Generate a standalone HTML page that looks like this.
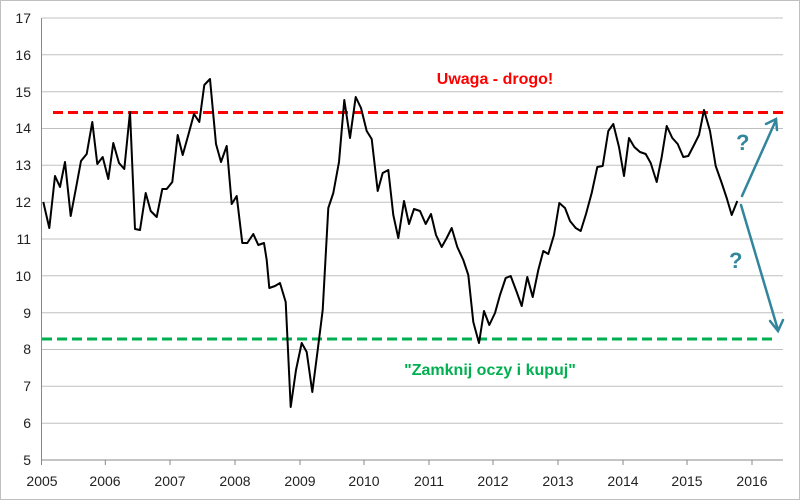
<!DOCTYPE html>
<html><head><meta charset="utf-8"><style>
html,body{margin:0;padding:0;background:#fff;}
svg{display:block;font-family:"Liberation Sans",sans-serif;}
</style></head><body>
<svg width="800" height="500" viewBox="0 0 800 500" xmlns="http://www.w3.org/2000/svg">
<rect x="0.5" y="0.5" width="799" height="499" fill="#fff" stroke="#bfbfbf"/>
<g stroke="#c0c0c0" stroke-width="1">
<line x1="42" x2="783" y1="18" y2="18"/><line x1="42" x2="783" y1="54.8" y2="54.8"/>
<line x1="42" x2="783" y1="91.7" y2="91.7"/><line x1="42" x2="783" y1="128.5" y2="128.5"/>
<line x1="42" x2="783" y1="165.3" y2="165.3"/><line x1="42" x2="783" y1="202.2" y2="202.2"/>
<line x1="42" x2="783" y1="239" y2="239"/><line x1="42" x2="783" y1="275.8" y2="275.8"/>
<line x1="42" x2="783" y1="312.7" y2="312.7"/><line x1="42" x2="783" y1="349.5" y2="349.5"/>
<line x1="42" x2="783" y1="386.3" y2="386.3"/><line x1="42" x2="783" y1="423.2" y2="423.2"/>
</g>
<g stroke="#888" stroke-width="1">
<line x1="41.5" x2="41.5" y1="18" y2="465"/>
<line x1="42" x2="783" y1="460" y2="460"/>
<line x1="105.3" x2="105.3" y1="460" y2="465"/><line x1="170" x2="170" y1="460" y2="465"/>
<line x1="235" x2="235" y1="460" y2="465"/><line x1="300" x2="300" y1="460" y2="465"/>
<line x1="364" x2="364" y1="460" y2="465"/><line x1="429" x2="429" y1="460" y2="465"/>
<line x1="493" x2="493" y1="460" y2="465"/><line x1="558" x2="558" y1="460" y2="465"/>
<line x1="623" x2="623" y1="460" y2="465"/><line x1="687" x2="687" y1="460" y2="465"/>
<line x1="752" x2="752" y1="460" y2="465"/>
</g>
<g font-size="14" fill="#222" text-anchor="end">
<text x="31" y="23">17</text><text x="31" y="60">16</text><text x="31" y="97">15</text>
<text x="31" y="133">14</text><text x="31" y="170">13</text><text x="31" y="207">12</text>
<text x="31" y="244">11</text><text x="31" y="281">10</text><text x="31" y="318">9</text>
<text x="31" y="354">8</text><text x="31" y="391">7</text><text x="31" y="428">6</text>
<text x="31" y="465">5</text>
</g>
<g font-size="14" fill="#222" text-anchor="middle">
<text x="42" y="486">2005</text><text x="105" y="486">2006</text><text x="170" y="486">2007</text>
<text x="235" y="486">2008</text><text x="300" y="486">2009</text><text x="364" y="486">2010</text>
<text x="429" y="486">2011</text><text x="493" y="486">2012</text><text x="558" y="486">2013</text>
<text x="623" y="486">2014</text><text x="687" y="486">2015</text><text x="752" y="486">2016</text>
</g>
<line x1="53" x2="783" y1="112.5" y2="112.5" stroke="#ff0000" stroke-width="3" stroke-dasharray="10,5"/>
<line x1="42" x2="775" y1="339" y2="339" stroke="#00b050" stroke-width="3" stroke-dasharray="10,5"/>
<polyline fill="none" stroke="#000" stroke-width="2" stroke-linejoin="round" points="43.3,202 49.3,228 55,176 60,187 65,162 70.7,216 76,188 81,161 86.7,154 92.3,122 97.3,164 102.7,157 108.3,179 113.3,143 119,163 124.3,169 130,112 135,229 140,230 145.7,193 150.7,211 156.7,217 162.3,189 166.7,189 172.3,182 177.7,135 182.7,155 188.3,135 194,114 199.3,122 204.3,85 210,79 216,144 221,162 226.7,146 231.7,204 236.7,196 242.3,243 247.3,243 253.3,234 258.3,245 264,243 266.7,260 269.3,288 275,286 280,283 285.7,302 290.7,407 296,370 301.7,343 306.7,352 312.3,392 317.7,350 322.7,310 328.3,208 333.3,193 339,162 344.3,100 350,138 355.7,97 361,108 366.7,131 371.7,139 377.7,191 382.7,173 388.3,170 393.3,215 398.3,238 404,201 409,224 414,209 420,211 425.7,224 431,214 436,235 441.7,247 446.7,238 451.7,228 457.3,247 463.3,260 468.3,275 473.3,322 479,343 484,311 489.3,325 495,313 500,295 505.7,278 510.7,276 516.7,292 521.7,306 527.3,277 532.7,297 538.3,270 543.3,251 548.3,254 554,235 559.3,203 565,208 570,221 575.7,228 580.7,231 586,214 591.7,193 597.3,167 602.7,166 608.3,131 613.3,124 619,147 624,176 629,138 634.3,147 640,152 645.7,154 650.7,163 656.7,182 661.7,157 666.7,126 672.3,138 677.7,144 683.3,157 688.3,156 694,145 699,135 704,110 710,131 715.7,166 721.7,183 726.7,198 731.7,215 737.3,201"/>
<g stroke="#31859c" stroke-width="2.5" fill="none" stroke-linecap="round">
<line x1="742" y1="196" x2="776" y2="120"/>
<polyline points="766,124 776,119 777,130"/>
<line x1="741" y1="205" x2="778" y2="330"/>
<polyline points="770,321 778,331 783,320"/>
</g>
<g font-size="22" font-weight="bold" fill="#31859c">
<text x="736" y="150">?</text><text x="729" y="268">?</text>
</g>
<text x="495" y="84" font-size="16" font-weight="bold" fill="#ff0000" text-anchor="middle">Uwaga - drogo!</text>
<text x="490" y="375" font-size="16" font-weight="bold" fill="#00b050" text-anchor="middle">"Zamknij oczy i kupuj"</text>
</svg>
</body></html>
